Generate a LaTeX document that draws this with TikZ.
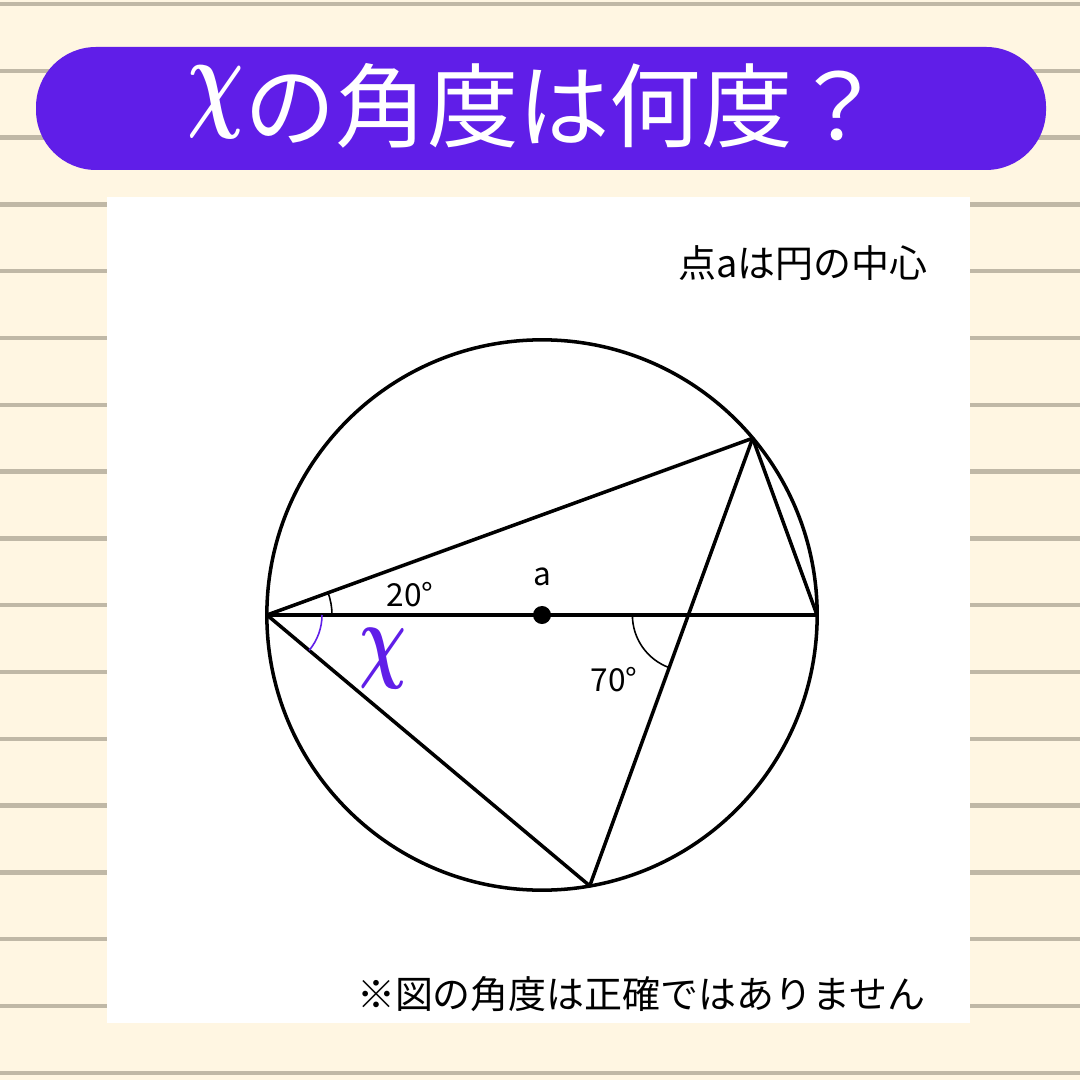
\documentclass[tikz,border=0pt]{standalone}
\usepackage{fontspec}
\usepackage{amsmath}
\setmainfont{Noto Sans CJK JP}
\usetikzlibrary{calc}
\definecolor{bgcream}{RGB}{255,246,226}
\definecolor{rulegray}{RGB}{192,184,166}
\definecolor{titlepurple}{RGB}{96,30,232}
\newcommand{\varx}{\scalebox{0.9}[1.3]{$\boldsymbol{\chi}$}}
\tikzset{
  ruleline/.style={draw=rulegray, line width=1.2pt},
  figline/.style={line width=1pt, line join=round},
  anglearc/.style={line width=0.45pt},
  lbl/.style={font=\fontsize{9}{10}\selectfont, inner sep=0pt, text height=1.5ex, text depth=0pt},
}
\begin{document}
\begin{tikzpicture}[x=0.01cm, y=-0.01cm]
\useasboundingbox (0,0) rectangle (1080,1080);
\fill[bgcream] (0,0) rectangle (1080,1080);
\foreach \i in {0,...,16}
  \draw[ruleline] (0,4+66.8*\i) -- (1080,4+66.8*\i);
\fill[white] (107,197) rectangle (970,1023);
\fill[titlepurple, rounded corners=0.6cm] (36,47) rectangle (1046,170);
\node[text=white, font=\fontsize{26}{30}\selectfont] (title) at (536,106) {\raisebox{0.26em}{\varx}の角度は何度？};

\node[anchor=east, font=\fontsize{10.8}{12}\selectfont] (note) at (940,263) {点aは円の中心};
\node[anchor=east, font=\fontsize{10.8}{13}\selectfont] (warn) at (938,994) {※図の角度は正確ではありません};

\coordinate (o) at (542,615);
\coordinate (A) at ($(o)+(180:275)$);
\coordinate (B) at ($(o)+(0:275)$);
\coordinate (C) at ($(o)+(-40:275)$);
\coordinate (D) at ($(o)+(80:275)$);
\coordinate (P) at (intersection of A--B and C--D);

\draw[figline] (o) circle (2.75cm);
\draw[figline] (A) -- (B);
\draw[figline] (A) -- (C) -- (B);
\draw[figline] (C) -- (D) -- (A);
\fill (o) circle (0.09cm);

\draw[anglearc] ($(A)+(0:65)$) arc[start angle=0, end angle=-20, radius=65];
\draw[anglearc, titlepurple] ($(A)+(0:55)$) arc[start angle=0, end angle=40, radius=55];
\draw[anglearc] ($(P)+(180:56)$) arc[start angle=180, end angle=110, radius=56];

\node[lbl] (ctr) at (542,571) {a};
\node[lbl] (deg20) at (410,592) {20°};
\node[lbl] (deg70) at (614,677) {70°};
\node[inner sep=0pt, text=titlepurple, font=\fontsize{20}{20}\selectfont] (ang) at (383,659) {\varx};
\end{tikzpicture}
\end{document}
